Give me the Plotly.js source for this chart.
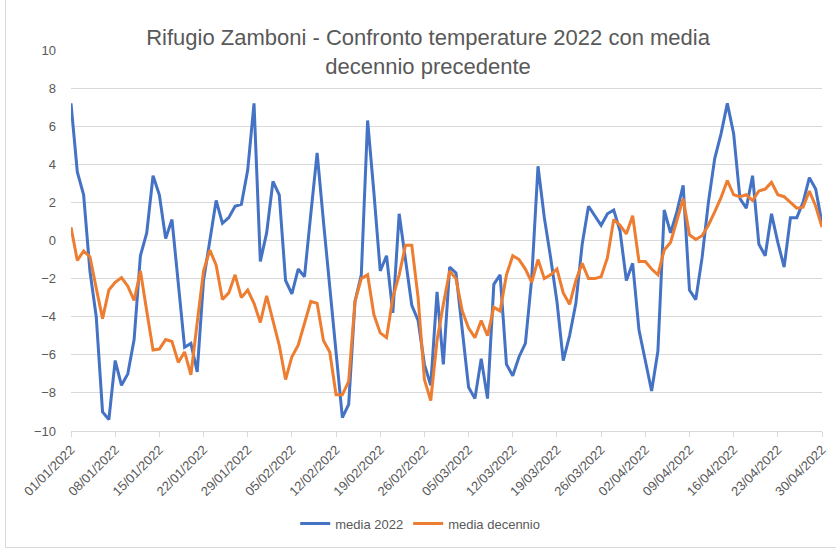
<!DOCTYPE html>
<html>
<head>
<meta charset="utf-8">
<script src="https://cdn.plot.ly/plotly-3.0.1.min.js"></script>
<style>
  html, body { margin: 0; padding: 0; background: #ffffff; }
  #chart { width: 836px; height: 551px; position: relative; }
  #frame { position: absolute; left: 5px; top: -1px; width: 840px; height: 549px; border: 1px solid #d9d9d9; pointer-events: none; box-sizing: border-box; }
</style>
</head>
<body>
<div id="chart"></div>
<div id="frame"></div>
<script>
// Start date of the daily series
const startDate = '2022-01-01';

// media 2022 (daily values, 01/01/2022 .. 30/04/2022)
const media2022 = [
  7.2, 3.6, 2.4, -1.6, -4.0, -9.0, -9.4, -6.3, -7.6, -7.0,
  -5.2, -0.8, 0.4, 3.4, 2.4, 0.1, 1.1, -2.2, -5.6, -5.4,
  -6.9, -2.1, 0.0, 2.1, 0.9, 1.2, 1.8, 1.9, 3.7, 7.2,
  -1.1, 0.4, 3.1, 2.4, -2.1, -2.8, -1.5, -1.9, 1.4, 4.6,
  1.0, -2.5, -6.0, -9.3, -8.6, -3.2, -1.8, 6.3, 2.5, -1.6,
  -0.8, -3.8, 1.4, -1.1, -3.4, -4.2, -6.5, -7.6, -2.7, -6.5,
  -1.4, -1.7, -4.6, -7.7, -8.3, -6.2, -8.3, -2.3, -1.8, -6.5,
  -7.1, -6.1, -5.4, -2.0, 3.9, 1.2, -0.9, -3.2, -6.3, -5.0,
  -3.3, -0.2, 1.8, 1.3, 0.8, 1.4, 1.6, 0.5, -2.1, -1.2,
  -4.7, -6.3, -7.9, -5.8, 1.6, 0.4, 1.5, 2.9, -2.6, -3.1,
  -0.9, 2.0, 4.3, 5.6, 7.2, 5.6, 2.2, 1.7, 3.4, -0.2,
  -0.8, 1.4, -0.1, -1.4, 1.2, 1.2, 2.0, 3.3, 2.7, 0.9
];

// media decennio precedente
const mediaDecennio = [
  0.7, -1.05, -0.55, -0.85, -2.5, -4.1, -2.6, -2.2, -1.95, -2.4,
  -3.15, -1.6, -3.7, -5.75, -5.7, -5.2, -5.3, -6.4, -5.85, -7.05,
  -4.3, -1.6, -0.5, -1.3, -3.1, -2.75, -1.8, -3.0, -2.6, -3.3,
  -4.3, -2.9, -4.2, -5.5, -7.3, -6.1, -5.5, -4.3, -3.2, -3.3,
  -5.25, -5.85, -8.1, -8.1, -7.4, -3.2, -2.0, -1.8, -3.9, -4.85,
  -5.1, -3.0, -1.8, -0.25, -0.25, -3.0, -7.3, -8.4, -5.25, -3.35,
  -1.6, -2.0, -3.7, -4.6, -5.1, -4.2, -5.0, -3.5, -3.7, -1.8,
  -0.8, -1.0, -1.5, -2.2, -1.0, -2.0, -1.8, -1.5, -2.75, -3.35,
  -2.1, -1.2, -2.0, -2.0, -1.9, -0.9, 1.1, 0.8, 0.35, 1.3,
  -1.1, -1.1, -1.5, -1.8, -0.5, -0.1, 1.0, 2.2, 0.3, 0.05,
  0.25, 0.8, 1.5, 2.25, 3.15, 2.4, 2.3, 2.4, 2.1, 2.6,
  2.7, 3.05, 2.4, 2.3, 2.0, 1.7, 1.75, 2.6, 1.8, 0.7
];

// x-axis tick dates and labels
const tickDates = ['2022-01-01','2022-01-08','2022-01-15','2022-01-22','2022-01-29','2022-02-05',
  '2022-02-12','2022-02-19','2022-02-26','2022-03-05','2022-03-12','2022-03-19','2022-03-26',
  '2022-04-02','2022-04-09','2022-04-16','2022-04-23','2022-04-30'];
const tickLabels = ['01/01/2022','08/01/2022','15/01/2022','22/01/2022','29/01/2022','05/02/2022',
  '12/02/2022','19/02/2022','26/02/2022','05/03/2022','12/03/2022','19/03/2022','26/03/2022',
  '02/04/2022','09/04/2022','16/04/2022','23/04/2022','30/04/2022'];

const seriesNames = ['media 2022', 'media decennio'];

function buildDates(start, n) {
  const out = [];
  const d0 = new Date(start + 'T00:00:00Z');
  for (let i = 0; i < n; i++) {
    const d = new Date(d0.getTime() + i * 86400000);
    out.push(d.toISOString().slice(0, 10));
  }
  return out;
}
const dates = buildDates(startDate, media2022.length);

const FONT = 'Liberation Sans, Arial, sans-serif';
const GREY = '#595959';

const traces = [
  { x: dates, y: media2022, type: 'scatter', mode: 'lines', name: seriesNames[0],
    line: { color: '#4472C4', width: 3 } },
  { x: dates, y: mediaDecennio, type: 'scatter', mode: 'lines', name: seriesNames[1],
    line: { color: '#ED7D31', width: 3 } }
];

const layout = {
  width: 836, height: 551,
  paper_bgcolor: '#ffffff', plot_bgcolor: '#ffffff',
  margin: { l: 71, r: 14, t: 50, b: 114 },
  font: { family: FONT, color: GREY, size: 13 },
  title: {
    text: 'Rifugio Zamboni - Confronto temperature 2022 con media<br>decennio precedente',
    font: { family: FONT, size: 22, color: GREY },
    xref: 'container', x: 0.512, xanchor: 'center',
    yref: 'container', y: 0.918, yanchor: 'top'
  },
  xaxis: {
    type: 'date',
    range: ['2022-01-01', '2022-04-30'],
    tickmode: 'array', tickvals: tickDates, ticktext: tickLabels,
    tickangle: -45,
    ticks: 'outside', ticklen: 5, tickcolor: '#d9d9d9',
    showgrid: false, zeroline: false,
    showline: true, linecolor: '#d9d9d9', linewidth: 1,
    tickfont: { family: FONT, size: 13, color: GREY },
    fixedrange: true
  },
  yaxis: {
    range: [-10, 10], dtick: 2, tick0: -10,
    showgrid: true, gridcolor: '#d9d9d9', gridwidth: 1,
    zeroline: false, showline: false, ticks: '',
    ticklabelstandoff: 14,
    tickfont: { family: FONT, size: 13, color: GREY },
    fixedrange: true
  },
  showlegend: true,
  legend: {
    orientation: 'h', x: 0.465, xanchor: 'center', y: -0.243, yanchor: 'middle',
    font: { family: FONT, size: 13, color: GREY },
    itemwidth: 30, tracegroupgap: 0
  }
};

Plotly.newPlot('chart', traces, layout, { displayModeBar: false, staticPlot: true });
</script>
</body>
</html>
